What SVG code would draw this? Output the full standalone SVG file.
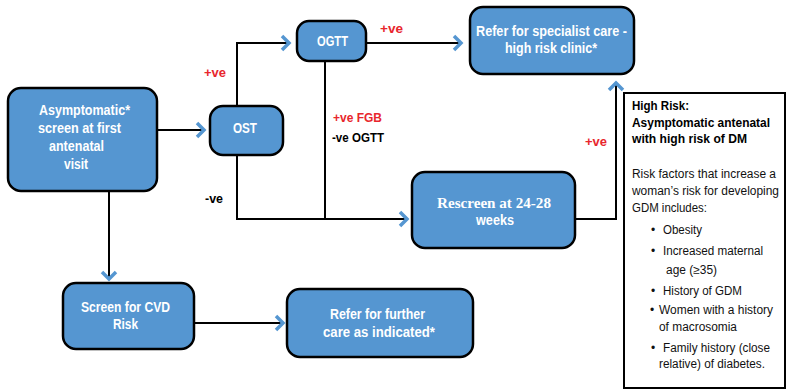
<svg xmlns="http://www.w3.org/2000/svg" width="786" height="389" viewBox="0 0 786 389">
<style>
.box{fill:#5596d1;stroke:#000;stroke-width:2.5}
.bt{font-family:"Liberation Sans",Arial,sans-serif;font-weight:bold;font-size:14px;fill:#fff}
.ln{fill:none;stroke:#000;stroke-width:2}
.ch{fill:none;stroke:#5596d1;stroke-width:3.5}
.red{font-family:"Liberation Sans",Arial,sans-serif;font-weight:bold;font-size:13px;fill:#e8262d}
.blk{font-family:"Liberation Sans",Arial,sans-serif;font-weight:bold;font-size:13px;fill:#000}
.rt{font-family:"Liberation Sans",Arial,sans-serif;font-size:12px;fill:#111}
.rtb{font-family:"Liberation Sans",Arial,sans-serif;font-size:12px;font-weight:bold;fill:#000}
</style>
<g id="connectors">
<path class="ln" d="M157,130 H203"/>
<path class="ch" d="M197,123 L204,130 L197,137"/>
<path class="ln" d="M237,106 V43 H288"/>
<path class="ch" d="M282,36 L289,43 L282,50"/>
<path class="ln" d="M366,43 H460"/>
<path class="ch" d="M454,36 L461,43 L454,50"/>
<path class="ln" d="M325,61 V219"/>
<path class="ln" d="M237,155 V219 H406"/>
<path class="ch" d="M400,212 L407,219 L400,226"/>
<path class="ln" d="M575,219 H616 V84"/>
<path class="ch" d="M609,90 L616,83 L623,90"/>
<path class="ln" d="M109,191 V278"/>
<path class="ch" d="M102,272 L109,279 L116,272"/>
<path class="ln" d="M194,323 H282"/>
<path class="ch" d="M276,316 L283,323 L276,330"/>
<text class="red" x="204" y="77" textLength="22" lengthAdjust="spacingAndGlyphs">+ve</text>
<text class="red" x="380" y="33" textLength="23" lengthAdjust="spacingAndGlyphs">+ve</text>
<text class="red" x="585" y="146" textLength="22" lengthAdjust="spacingAndGlyphs">+ve</text>
<text class="red" x="333" y="122" textLength="49" lengthAdjust="spacingAndGlyphs">+ve FGB</text>
<text class="blk" x="332" y="142" textLength="52" lengthAdjust="spacingAndGlyphs">-ve OGTT</text>
<text class="blk" x="205" y="203" textLength="18" lengthAdjust="spacingAndGlyphs">-ve</text>
</g>
<g id="asymptomatic">
<rect class="box" x="8" y="88" width="149" height="103" rx="13"/>
<text class="bt" x="39" y="115" textLength="91" lengthAdjust="spacingAndGlyphs">Asymptomatic*</text>
<text class="bt" x="38" y="133" textLength="83" lengthAdjust="spacingAndGlyphs">screen at first</text>
<text class="bt" x="49" y="151" textLength="55" lengthAdjust="spacingAndGlyphs">antenatal</text>
<text class="bt" x="64" y="169" textLength="24" lengthAdjust="spacingAndGlyphs">visit</text>
</g>
<g id="ost">
<rect class="box" x="210" y="106" width="73" height="49" rx="13"/>
<text class="bt" x="233" y="133" textLength="24" lengthAdjust="spacingAndGlyphs">OST</text>
</g>
<g id="ogtt">
<rect class="box" x="297" y="21" width="69" height="40" rx="12"/>
<text class="bt" x="317" y="46" textLength="31" lengthAdjust="spacingAndGlyphs">OGTT</text>
</g>
<g id="specialist">
<rect class="box" x="470" y="7" width="164" height="67" rx="13"/>
<text class="bt" x="476" y="36" textLength="151" lengthAdjust="spacingAndGlyphs">Refer for specialist care -</text>
<text class="bt" x="505" y="53" textLength="92" lengthAdjust="spacingAndGlyphs">high risk clinic*</text>
</g>
<g id="rescreen">
<rect class="box" x="412" y="172" width="163" height="76" rx="13"/>
<text x="437" y="208" textLength="114" lengthAdjust="spacingAndGlyphs" style="font-family:'Liberation Serif','Times New Roman',serif;font-weight:bold;font-size:15px;fill:#fff">Rescreen at 24-28</text>
<text class="bt" x="476" y="225" textLength="38" lengthAdjust="spacingAndGlyphs">weeks</text>
</g>
<g id="cvd">
<rect class="box" x="63" y="283" width="131" height="66" rx="13"/>
<text class="bt" x="81" y="312" textLength="89" lengthAdjust="spacingAndGlyphs">Screen for CVD</text>
<text class="bt" x="113" y="329" textLength="25" lengthAdjust="spacingAndGlyphs">Risk</text>
</g>
<g id="further">
<rect class="box" x="287" y="289" width="186" height="68" rx="13"/>
<text class="bt" x="330" y="319" textLength="95" lengthAdjust="spacingAndGlyphs">Refer for further</text>
<text class="bt" x="323" y="337" textLength="112" lengthAdjust="spacingAndGlyphs">care as indicated*</text>
</g>
<g id="highrisk">
<rect x="624" y="93" width="161" height="295" fill="#fff" stroke="#000" stroke-width="2"/>
<text class="rtb" x="632" y="110" textLength="57" lengthAdjust="spacingAndGlyphs">High Risk:</text>
<text class="rtb" x="632" y="127" textLength="138" lengthAdjust="spacingAndGlyphs">Asymptomatic antenatal</text>
<text class="rtb" x="632" y="143" textLength="115" lengthAdjust="spacingAndGlyphs">with high risk of DM</text>
<text class="rt" x="632" y="178" textLength="144" lengthAdjust="spacingAndGlyphs">Risk factors that increase a</text>
<text class="rt" x="632" y="195" textLength="147" lengthAdjust="spacingAndGlyphs">woman’s risk for developing</text>
<text class="rt" x="632" y="212" textLength="75" lengthAdjust="spacingAndGlyphs">GDM includes:</text>
<text class="rt" x="651" y="234">•</text><text class="rt" x="663" y="234" textLength="39" lengthAdjust="spacingAndGlyphs">Obesity</text>
<text class="rt" x="651" y="255">•</text><text class="rt" x="663" y="255" textLength="100" lengthAdjust="spacingAndGlyphs">Increased maternal</text>
<text class="rt" x="666" y="274" textLength="51" lengthAdjust="spacingAndGlyphs">age (≥35)</text>
<text class="rt" x="651" y="295">•</text><text class="rt" x="663" y="295" textLength="79" lengthAdjust="spacingAndGlyphs">History of GDM</text>
<text class="rt" x="650" y="314">•</text><text class="rt" x="659" y="314" textLength="114" lengthAdjust="spacingAndGlyphs">Women with a history</text>
<text class="rt" x="659" y="331" textLength="78" lengthAdjust="spacingAndGlyphs">of macrosomia</text>
<text class="rt" x="651" y="352">•</text><text class="rt" x="663" y="352" textLength="107" lengthAdjust="spacingAndGlyphs">Family history (close</text>
<text class="rt" x="659" y="368" textLength="106" lengthAdjust="spacingAndGlyphs">relative) of diabetes.</text>
</g>
</svg>
